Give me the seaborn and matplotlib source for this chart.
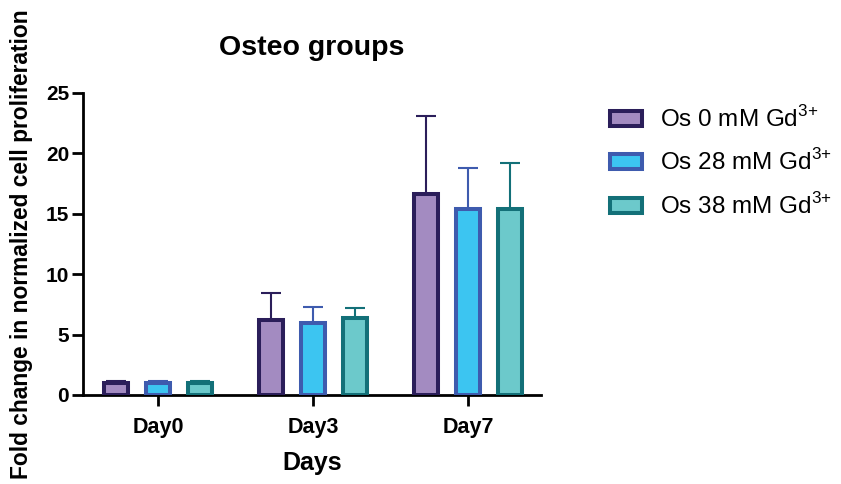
import matplotlib
matplotlib.use("Agg")
import matplotlib.pyplot as plt
import seaborn as sns
import pandas as pd
import numpy as np
from matplotlib.patches import Patch

# Mean fold change and upper SD per group and day
days = ["Day0", "Day3", "Day7"]
groups = ["Os 0 mM Gd$^{\\mathregular{3{+}}}$",
          "Os 28 mM Gd$^{\\mathregular{3{+}}}$",
          "Os 38 mM Gd$^{\\mathregular{3{+}}}$"]
os0_mean = [1.0, 6.2, 16.6]
os28_mean = [1.0, 5.95, 15.4]
os38_mean = [1.0, 6.35, 15.4]
os0_sd = [0.17, 2.25, 6.5]
os28_sd = [0.17, 1.35, 3.35]
os38_sd = [0.17, 0.85, 3.8]

fills = ["#A38BC1", "#3CC5F1", "#6CC9CB"]
edges = ["#2B1E5A", "#3E5BAE", "#137078"]

means = [os0_mean, os28_mean, os38_mean]
sds = [os0_sd, os28_sd, os38_sd]

df = pd.DataFrame({
    "Days": days * 3,
    "group": [g for g in groups for _ in days],
    "value": [v for m in means for v in m],
})

sns.set_theme(style="ticks")
plt.rcParams["font.family"] = ["Liberation Sans", "DejaVu Sans"]
plt.rcParams.update({
    "text.color": "black",
    "axes.labelcolor": "black",
    "xtick.color": "black",
    "ytick.color": "black",
})

fig = plt.figure(figsize=(8.41, 4.84), dpi=100)
ax = fig.add_axes([0.0987, 0.184, 0.5445, 0.624])

sns.barplot(data=df, x="Days", y="value", hue="group", order=days,
            hue_order=groups, palette=fills, saturation=1, width=0.813,
            gap=0.43, errorbar=None, legend=False, ax=ax, zorder=3)

# Style each group's bars and add upper error bars
n = len(days)
for gi, (m, s) in enumerate(zip(means, sds)):
    bars = ax.patches[gi * n:(gi + 1) * n]
    xs = []
    for b in bars:
        b.set_edgecolor(edges[gi])
        b.set_linewidth(2.9)
        xs.append(b.get_x() + b.get_width() / 2)
    ax.errorbar(xs, m, yerr=[np.zeros(n), s], fmt="none",
                ecolor=edges[gi], elinewidth=1.5, capsize=7,
                capthick=1.5, zorder=2)

ax.set_ylim(0, 25)
ax.set_xlim(-0.484, 2.47)
ax.set_yticks([0, 5, 10, 15, 20, 25])
sns.despine(ax=ax)
for sp in ["left", "bottom"]:
    ax.spines[sp].set_linewidth(2)
    ax.spines[sp].set_color("black")
ax.tick_params(axis="both", direction="out", length=8, width=2,
               colors="black", labelsize=15)
ax.tick_params(axis="y", pad=2)
ax.tick_params(axis="x", pad=8, labelsize=15.5)
for lab in ax.get_xticklabels() + ax.get_yticklabels():
    lab.set_fontweight("bold")

ax.set_xlabel("Days", fontsize=18, fontweight="bold")
ax.xaxis.set_label_coords(0.5, -0.185)
ax.set_ylabel("Fold change in normalized cell proliferation", fontsize=16.4,
              fontweight="bold")
ax.yaxis.set_label_coords(-0.11, 0.5)
ax.set_title("Osteo groups", fontsize=20.5, fontweight="bold", pad=27)

handles = [Patch(facecolor=f, edgecolor=e, linewidth=2.9) for f, e in zip(fills, edges)]
fig.legend(handles=handles, labels=groups, loc="upper left",
           bbox_to_anchor=(0.6995, 0.826), frameon=False,
           prop={"size": 17.5, "weight": "normal"}, handlelength=1.3,
           handleheight=0.55, handletextpad=0.75, labelspacing=0.72)

fig.savefig("out.png", dpi=100)
